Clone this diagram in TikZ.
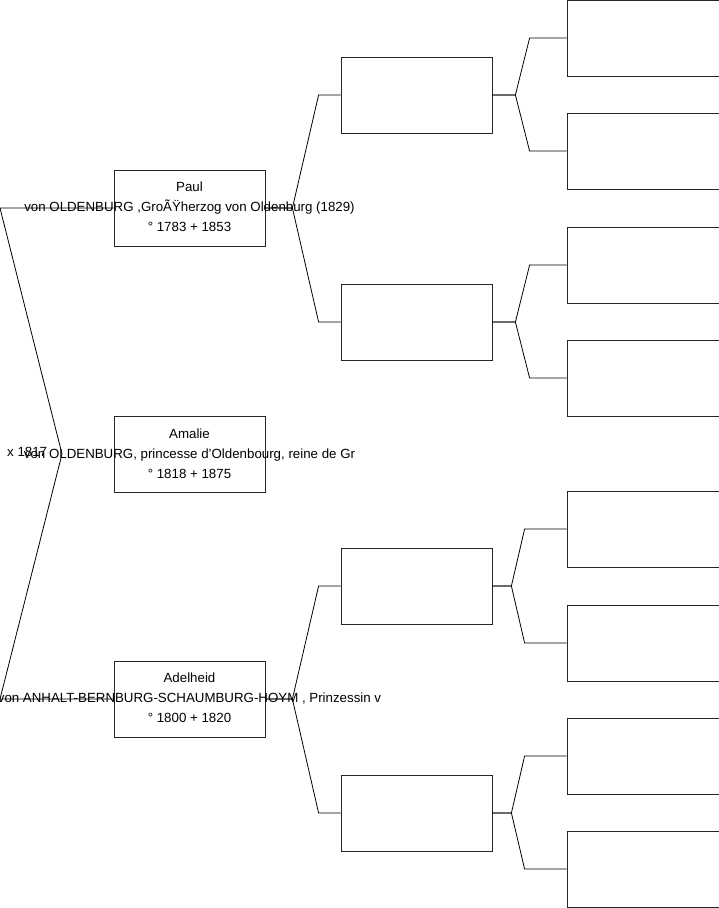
\documentclass[tikz,border=0pt]{standalone}
\usepackage{fontspec}
\setmainfont{Liberation Sans}
\usepackage{tikz}
\usetikzlibrary{positioning}

\begin{document}
\begin{tikzpicture}[
  x=1pt, y=-1pt,
  person/.style={
    draw=black!85, line width=0.8pt,
    minimum width=151pt,
    minimum height=76pt,
    inner sep=0pt},
  ancestor/.style={
    person, minimum width=152pt},
  info/.style={
    align=center, inner sep=0pt,
    font=\fontsize{13.3}{20}\selectfont},
  link/.style={
    black, line width=0.8pt}
]
\useasboundingbox (0,0) rectangle (719,908);

% first generation
\node[person] (paul) at (189.5,208) {};
\node[person] (amalie) at (189.5,454) {};
\node[person] (adelheid) at (189.5,699) {};

\node[info] at (189.5,207)
  {Paul\\von OLDENBURG ,GroÃŸherzog von Oldenburg (1829)\\° 1783 + 1853};
\node[info] at (189.5,454)
  {Amalie\\von OLDENBURG, princesse d'Oldenbourg, reine de Gr\\° 1818 + 1875};
\node[info] at (189.5,698)
  {Adelheid\\von ANHALT-BERNBURG-SCHAUMBURG-HOYM , Prinzessin v\\° 1800 + 1820};

% parents
\node[person] (pf) at (416.5,95) {};
\node[person] (pm) at (416.5,322) {};
\node[person] (af) at (416.5,586) {};
\node[person] (am) at (416.5,813) {};

% grandparents
\node[ancestor] (pff) at (643,38) {};
\node[ancestor] (pfm) at (643,151) {};
\node[ancestor] (pmf) at (643,265) {};
\node[ancestor] (pmm) at (643,378) {};
\node[ancestor] (aff) at (643,529) {};
\node[ancestor] (afm) at (643,643) {};
\node[ancestor] (amf) at (643,756) {};
\node[ancestor] (amm) at (643,869) {};

% marriages
\coordinate (wed) at (62,454);
\draw[link] (paul.west) -- (0,208) -- (wed) -- (0,699) -- (adelheid.west);
\node[info, anchor=west] at (7,452) {x 1817};

% ancestry forks
\foreach \src/\dst/\h/\k in
  {paul/pf/27/22,paul/pm/27/22,adelheid/af/27/22,adelheid/am/27/22,
   pf/pff/23/37,pf/pfm/23/37,pm/pmf/23/37,pm/pmm/23/37,
   af/aff/19/42,af/afm/19/42,am/amf/19/42,am/amm/19/42}{
  \draw[link] (\src.east) -- ++(\h,0)
    -- ([xshift=-\k pt]\dst.west) -- (\dst.west);
}
\end{tikzpicture}
\end{document}
